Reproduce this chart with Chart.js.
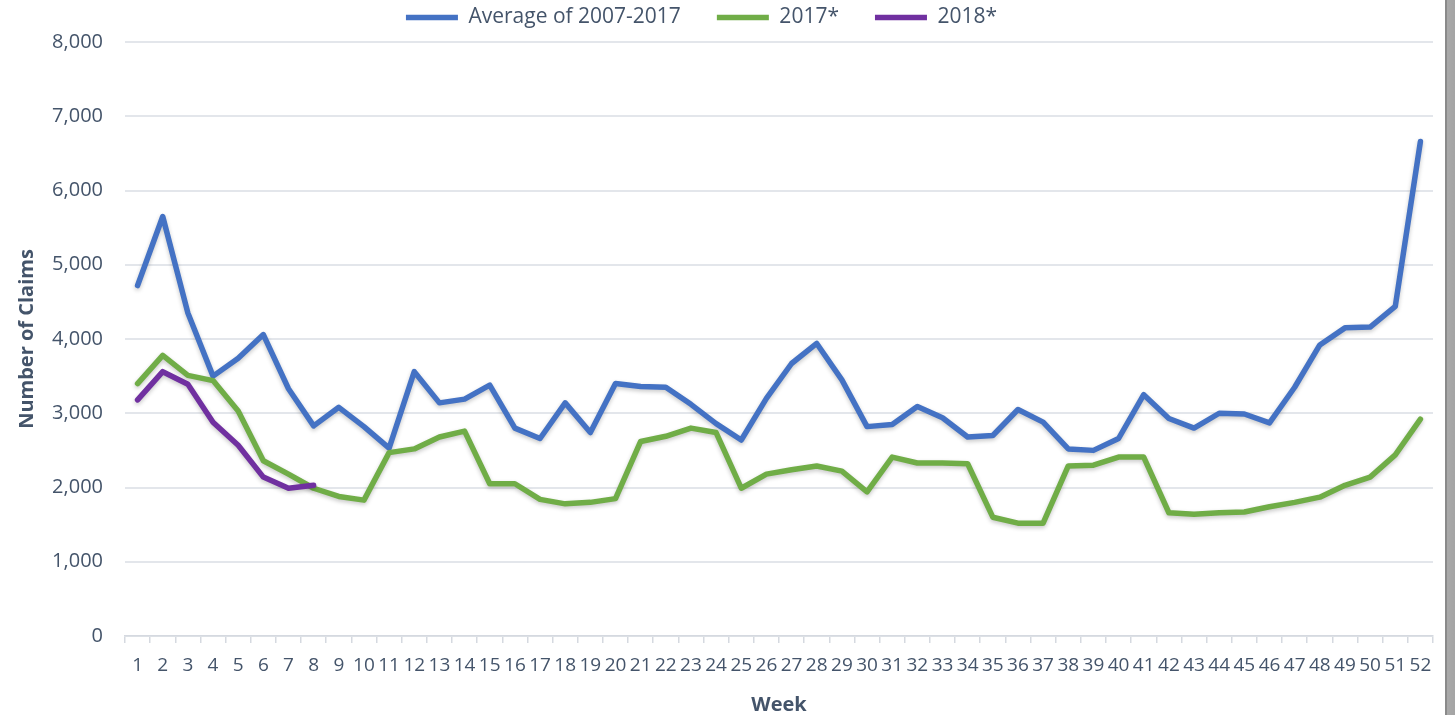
<!DOCTYPE html>
<html>
<head>
<meta charset="utf-8">
<script src="https://cdn.jsdelivr.net/npm/chart.js@4/dist/chart.umd.min.js"></script>
<style>
  html, body { margin: 0; padding: 0; background: #ffffff; }
  #wrap { position: relative; width: 1455px; height: 715px; overflow: hidden; background: #ffffff; }
  #c { position: absolute; left: 0; top: 0; }
  #edge { position: absolute; left: 1445px; top: 0; width: 10px; height: 715px;
          background: linear-gradient(to right, #8a8a8a 0px, #8a8a8a 2px, #a9a9a9 2px, #a4a4a4 100%); }
</style>
</head>
<body>
<div id="wrap">
  <canvas id="c" width="1455" height="715"></canvas>
  <div id="edge"></div>
</div>
<script>
// ---- data ----
const weeks = ["1","2","3","4","5","6","7","8","9","10","11","12","13","14","15","16","17","18","19","20","21","22","23","24","25","26","27","28","29","30","31","32","33","34","35","36","37","38","39","40","41","42","43","44","45","46","47","48","49","50","51","52"];

const seriesNames = ["Average of 2007-2017", "2017*", "2018*"];

const avg2007to2017 = [4720, 5650, 4350, 3500, 3740, 4060, 3330, 2830, 3080, 2820,
                       2530, 3560, 3140, 3190, 3380, 2800, 2660, 3140, 2740, 3400,
                       3360, 3350, 3120, 2860, 2640, 3200, 3670, 3940, 3450, 2820,
                       2850, 3090, 2940, 2680, 2700, 3050, 2880, 2520, 2500, 2660,
                       3250, 2930, 2800, 3000, 2990, 2870, 3350, 3920, 4150, 4160,
                       4440, 6660];

const claims2017 = [3400, 3780, 3510, 3440, 3030, 2360, 2180, 1990, 1880, 1830,
                    2470, 2520, 2680, 2760, 2050, 2050, 1840, 1780, 1800, 1850,
                    2620, 2690, 2800, 2740, 1990, 2180, 2240, 2290, 2220, 1940,
                    2410, 2330, 2330, 2320, 1600, 1520, 1520, 2290, 2300, 2410,
                    2410, 1660, 1640, 1660, 1670, 1740, 1800, 1870, 2030, 2140,
                    2440, 2920];

const claims2018 = [3180, 3560, 3390, 2880, 2570, 2140, 1990, 2030];

const yTicks = [0, 1000, 2000, 3000, 4000, 5000, 6000, 7000, 8000];

// ---- styling ----
const TEXT = '#44546a';
const GRID = '#e3e6eb';
const AXIS = '#d5d9e0';
Chart.defaults.font.family = "'Open Sans', 'DejaVu Sans', sans-serif";
Chart.defaults.color = TEXT;

const shadowPlugin = {
  id: 'lineShadow',
  beforeDatasetsDraw(chart) {
    const ctx = chart.ctx;
    ctx.save();
    ctx.shadowColor = 'rgba(0,0,0,0.22)';
    ctx.shadowBlur = 4;
    ctx.shadowOffsetX = 0;
    ctx.shadowOffsetY = 2;
  },
  afterDatasetsDraw(chart) {
    chart.ctx.restore();
  }
};

const legendShift = {
  id: 'legendShift',
  afterLayout(chart) {
    const lg = chart.legend;
    if (lg) { lg.left -= 20; lg.right -= 20; lg.top -= 4; lg.bottom -= 4; }
  }
};

function lineDs(label, data, color, order) {
  return {
    label: label,
    data: data,
    borderColor: color,
    backgroundColor: color,
    borderWidth: 5.5,
    pointRadius: 0,
    pointHoverRadius: 0,
    tension: 0,
    fill: false,
    borderCapStyle: 'round',
    borderJoinStyle: 'round',
    order: order
  };
}

new Chart(document.getElementById('c'), {
  type: 'line',
  data: {
    labels: weeks,
    datasets: [
      lineDs(seriesNames[0], avg2007to2017, '#4472c4', 3),
      lineDs(seriesNames[1], claims2017, '#70ad47', 2),
      lineDs(seriesNames[2], claims2018, '#7030a0', 1)
    ]
  },
  options: {
    responsive: false,
    animation: false,
    devicePixelRatio: 1,
    layout: { padding: { top: -25, left: 10, right: 22, bottom: 0 } },
    plugins: {
      tooltip: { enabled: false },
      title: { display: false },
      legend: {
        display: true,
        position: 'top',
        align: 'center',
        labels: {
          usePointStyle: true,
          pointStyle: 'line',
          pointStyleWidth: 52,
          padding: 36,
          color: TEXT,
          font: { size: 21 },
          sort: (a, b) => a.datasetIndex - b.datasetIndex
        }
      }
    },
    scales: {
      x: {
        type: 'category',
        offset: true,
        grid: {
          display: true,
          offset: true,
          drawOnChartArea: false,
          drawTicks: true,
          tickLength: 7,
          color: AXIS,
          lineWidth: 1.5
        },
        border: { display: true, color: AXIS, width: 1.5 },
        ticks: {
          autoSkip: false,
          maxRotation: 0,
          minRotation: 0,
          padding: 11,
          color: TEXT,
          font: { size: 19 }
        },
        title: {
          display: true,
          text: 'Week',
          color: TEXT,
          font: { size: 20, weight: 'bold' },
          padding: { top: 0, bottom: -2 }
        },
        afterFit(scale) { scale.height = 79; }
      },
      y: {
        min: 0,
        max: 8000,
        afterBuildTicks(scale) { scale.ticks = yTicks.map(v => ({ value: v })); },
        grid: {
          display: true,
          drawTicks: false,
          color: GRID,
          lineWidth: 2
        },
        border: { display: false },
        ticks: {
          padding: 22,
          color: TEXT,
          font: { size: 20 },
          callback: (v) => Number(v).toLocaleString('en-US')
        },
        title: {
          display: true,
          text: 'Number of Claims',
          color: TEXT,
          font: { size: 20, weight: 'bold' },
          padding: { top: 5, bottom: 0 }
        },
        afterFit(scale) { scale.width = 115; }
      }
    }
  },
  plugins: [shadowPlugin, legendShift]
});
</script>
</body>
</html>
